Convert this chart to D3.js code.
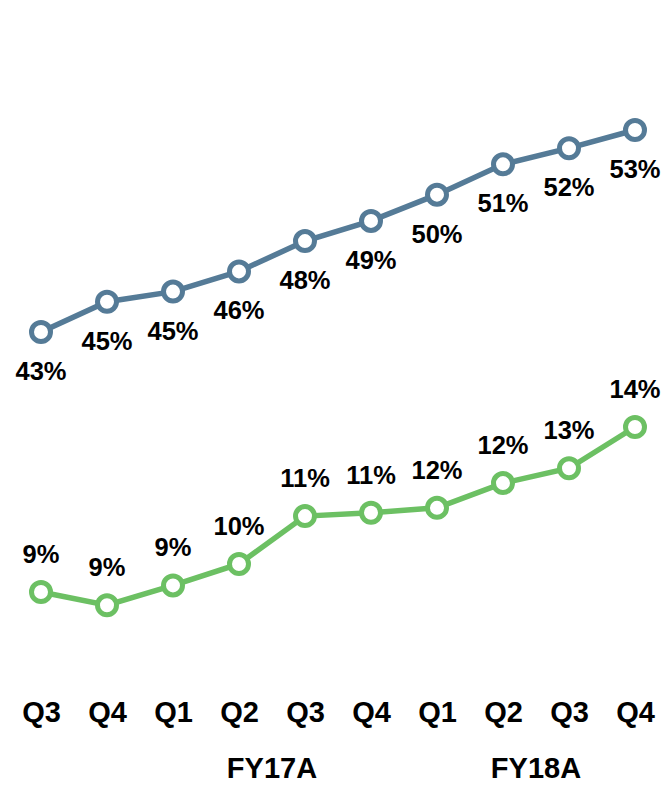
<!DOCTYPE html>
<html><head><meta charset="utf-8">
<script src="https://cdn.jsdelivr.net/npm/d3@7"></script>
<style>body{margin:0;background:#fff}svg{display:block}</style>
</head><body>
<script>
const quarters = ["Q3","Q4","Q1","Q2","Q3","Q4","Q1","Q2","Q3","Q4"];
const fiscalYears = [{label:"FY17A", from:3, to:4},{label:"FY18A", from:7, to:8}];
const blueValues = [43.0, 44.5, 45.0, 46.0, 47.5, 48.5, 49.8, 51.3, 52.1, 53.0];
const blueLabels = ["43%","45%","45%","46%","48%","49%","50%","51%","52%","53%"];
const greenValues = [9.0, 8.6, 9.2, 9.85, 11.3, 11.4, 11.55, 12.3, 12.75, 14.0];
const greenLabels = ["9%","9%","9%","10%","11%","11%","12%","12%","13%","14%"];

const W = 664, H = 785;
const blueColor = "#557b97", greenColor = "#6cc063";
const svg = d3.select("body").append("svg").attr("width", W).attr("height", H);

const x = d3.scalePoint().domain(d3.range(quarters.length)).range([41, 635]);
const yBlue = d3.scaleLinear().domain([43, 53]).range([332, 130]);
const yGreen = d3.scaleLinear().domain([9, 14]).range([592, 427]);
const font = "'Liberation Sans', Arial, sans-serif";

function series(values, labels, y, color, labelDy) {
  const g = svg.append("g");
  g.append("path").datum(values)
    .attr("d", d3.line().x((d,i)=>x(i)).y(d=>y(d)))
    .attr("fill","none").attr("stroke",color).attr("stroke-width",5.5);
  g.selectAll("circle").data(values).join("circle")
    .attr("cx",(d,i)=>x(i)).attr("cy",d=>y(d)).attr("r",9.5)
    .attr("fill","#fff").attr("stroke",color).attr("stroke-width",5);
  g.selectAll("text").data(values).join("text")
    .attr("x",(d,i)=>x(i)).attr("y",d=>y(d)+labelDy)
    .attr("text-anchor","middle").attr("font-family",font)
    .attr("font-weight","bold").attr("font-size",25.5).attr("fill","#000")
    .text((d,i)=>labels[i]);
}
series(blueValues, blueLabels, yBlue, blueColor, 48);
series(greenValues, greenLabels, yGreen, greenColor, -29);

const xAxis = d3.axisBottom(x).tickFormat(i=>quarters[i]).tickSize(0).tickPadding(0);
const ax = svg.append("g").attr("transform","translate(0,701)").call(xAxis);
ax.select(".domain").remove();
ax.selectAll("text").attr("font-family",font).attr("font-weight","bold")
  .attr("font-size",29).attr("fill","#000");

svg.selectAll(".fy").data(fiscalYears).join("text").attr("class","fy")
  .attr("x",d=>(x(d.from)+x(d.to))/2).attr("y",778)
  .attr("text-anchor","middle").attr("font-family",font)
  .attr("font-weight","bold").attr("font-size",29).attr("fill","#000")
  .text(d=>d.label);
</script>
</body></html>
